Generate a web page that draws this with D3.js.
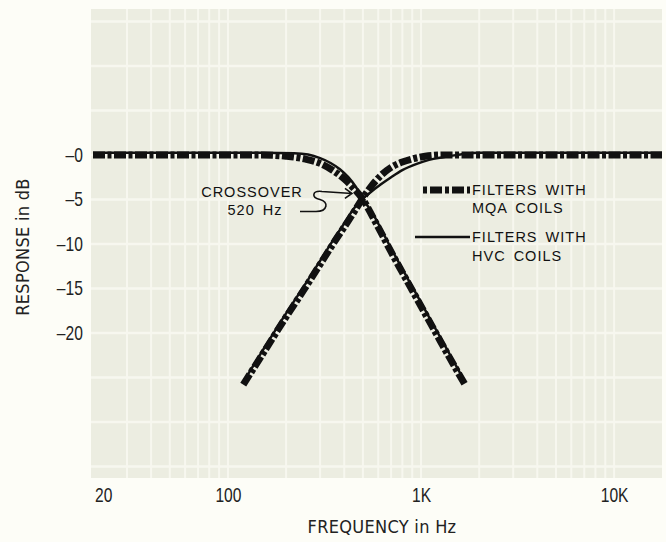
<!DOCTYPE html>
<html>
<head>
<meta charset="utf-8">
<script src="https://cdn.jsdelivr.net/npm/d3@7"></script>
<style>
  body { margin: 0; background: #fdfdf7; }
  svg { display: block; }
  .tick text { font-family: "Liberation Sans", Arial, sans-serif; font-size: 20px; fill: #222; }
  .note { font-family: "Liberation Sans", Arial, sans-serif; font-size: 14.5px; fill: #111; letter-spacing: 1px; word-spacing: 3px; }
  .title { font-family: "DejaVu Sans Condensed", "Liberation Sans", sans-serif; font-size: 18px; fill: #222; letter-spacing: 0.3px; }
</style>
</head>
<body>
<div id="chart"></div>
<script>
// frequency (Hz), response (dB)
var lowpassMQA = [[20,0],[150,0],[200,-0.15],[250,-0.45],[300,-0.95],[350,-1.75],[400,-2.7],[450,-3.8],[500,-5.0],[560,-6.9],[620,-8.7],[700,-10.9],[800,-13.2],[900,-15.2],[1000,-17.0],[1200,-20.1],[1450,-23.3],[1690,-25.8]];
var lowpassHVC = [[20,0.25],[150,0.25],[220,0.2],[260,0.05],[300,-0.35],[340,-0.9],[380,-1.6],[420,-2.5],[460,-3.6],[500,-4.95],[560,-6.5],[620,-8.3],[700,-10.5],[800,-12.8],[900,-14.8],[1000,-16.6],[1200,-19.7],[1450,-22.9],[1690,-25.5]];
var highpassMQA = [[120,-25.8],[150,-22.5],[200,-18.2],[250,-15.0],[300,-12.3],[350,-10.0],[400,-8.1],[450,-6.4],[494,-5.0],[540,-3.8],[620,-2.3],[700,-1.4],[800,-0.8],[900,-0.45],[1050,-0.15],[1300,0],[17700,0]];
var highpassHVC = [[120,-25.5],[150,-22.1],[200,-17.8],[250,-14.6],[300,-11.9],[350,-9.6],[400,-7.7],[450,-6.0],[494,-5.0],[540,-4.3],[620,-3.3],[700,-2.5],[800,-1.7],[950,-1.0],[1100,-0.55],[1300,-0.25],[1600,0.05],[2000,0.25],[17700,0.25]];

var freqTicks = [20, 100, 1000, 10000];
var freqLabels = ["20", "100", "1K", "10K"];
var dbTicks = [0, -5, -10, -15, -20];
var gridDb = d3.range(15, -36, -5);

var width = 666, height = 542;
var svg = d3.select("#chart").append("svg")
    .attr("width", width)
    .attr("height", height);

var x = d3.scaleLog().domain([20, 17700]).range([93, 662]);
var y = d3.scaleLinear().domain([-36.3, 16.4]).range([478, 9]);

svg.append("rect")
    .attr("x", x.range()[0] - 2).attr("y", y.range()[1])
    .attr("width", x.range()[1] - x.range()[0] + 2)
    .attr("height", y.range()[0] - y.range()[1])
    .attr("fill", "#ecede1");

// log graph paper
var gridFreq = [];
[10, 100, 1000, 10000].forEach(function (d) {
    for (var k = 1; k < 10; k++) {
        var f = k * d;
        if (f > 20 && f < 17700) gridFreq.push(f);
    }
});
svg.append("g").selectAll("line").data(gridFreq).join("line")
    .attr("x1", function (d) { return x(d); }).attr("x2", function (d) { return x(d); })
    .attr("y1", y.range()[1]).attr("y2", y.range()[0])
    .attr("stroke", "#f7f7ef").attr("stroke-width", 2);
svg.append("g").selectAll("line").data(gridDb).join("line")
    .attr("x1", x.range()[0] - 2).attr("x2", x.range()[1])
    .attr("y1", function (d) { return y(d); }).attr("y2", function (d) { return y(d); })
    .attr("stroke", "#f7f7ef").attr("stroke-width", 2.5);

// axes (condensed look by squeezing the labels)
var xAxis = svg.append("g")
    .attr("transform", "translate(0," + y.range()[0] + ")")
    .call(d3.axisBottom(x).tickValues(freqTicks).tickSize(0).tickPadding(10)
        .tickFormat(function (d, i) { return freqLabels[i]; }));
xAxis.select(".domain").remove();
xAxis.selectAll(".tick text").attr("transform", "scale(0.78,1)");
xAxis.selectAll(".tick text").filter(function (d) { return d === 20; })
    .attr("text-anchor", "start").attr("dx", 2);

var yAxis = svg.append("g")
    .attr("transform", "translate(" + x.range()[0] + ",0)")
    .call(d3.axisLeft(y).tickValues(dbTicks).tickSize(0).tickPadding(13)
        .tickFormat(function (d) { return "\u2013" + Math.abs(d); }));
yAxis.select(".domain").remove();
yAxis.selectAll(".tick text").attr("transform", "scale(0.78,1)");

svg.append("text").attr("class", "title")
    .attr("text-anchor", "middle")
    .attr("x", 382).attr("y", 533)
    .text("FREQUENCY in Hz");
svg.append("text").attr("class", "title")
    .attr("text-anchor", "middle")
    .attr("transform", "translate(29,247) rotate(-90)")
    .text("RESPONSE in dB");

// curves
var line = d3.line()
    .x(function (d) { return x(d[0]); })
    .y(function (d) { return y(d[1]); })
    .curve(d3.curveMonotoneX);

var dashDot = "12,2.5,4,2.5";
[lowpassMQA, highpassMQA].forEach(function (s) {
    svg.append("path").datum(s)
        .attr("d", line)
        .attr("fill", "none")
        .attr("stroke", "#111")
        .attr("stroke-width", 7)
        .attr("stroke-dasharray", dashDot);
});
[lowpassHVC, highpassHVC].forEach(function (s) {
    svg.append("path").datum(s)
        .attr("d", line)
        .attr("fill", "none")
        .attr("stroke", "#111")
        .attr("stroke-width", 2.5);
});

// crossover note
var cx = x(500), cy = y(-5);
svg.append("text").attr("class", "note").attr("text-anchor", "middle")
    .attr("x", 252).attr("y", 197).text("CROSSOVER");
svg.append("text").attr("class", "note").attr("text-anchor", "middle")
    .attr("x", 255).attr("y", 215).text("520 Hz");
var tipX = cx - 11, tipY = cy - 6;
svg.append("path")
    .attr("d", "M300," + (tipY + 18) + " L316," + (tipY + 18) +
        " C328," + (tipY + 18) + " 329," + (tipY + 8) + " 320," + (tipY + 6) +
        " C311," + (tipY + 4) + " 312," + (tipY - 3) + " 322," + (tipY - 2) +
        " L" + tipX + "," + tipY +
        " M" + (tipX - 7) + "," + (tipY - 5) + " L" + tipX + "," + tipY + " L" + (tipX - 7) + "," + (tipY + 5))
    .attr("fill", "none").attr("stroke", "#111").attr("stroke-width", 1.6);

// legend
var legend = svg.append("g");
legend.append("line")
    .attr("x1", 423).attr("x2", 470).attr("y1", 190).attr("y2", 190)
    .attr("stroke", "#111").attr("stroke-width", 7)
    .attr("stroke-dasharray", "4,3,12,3");
legend.append("line")
    .attr("x1", 415).attr("x2", 470).attr("y1", 237).attr("y2", 237)
    .attr("stroke", "#111").attr("stroke-width", 2.5);
legend.append("text").attr("class", "note").attr("x", 472).attr("y", 195).text("FILTERS  WITH");
legend.append("text").attr("class", "note").attr("x", 472).attr("y", 213).text("MQA  COILS");
legend.append("text").attr("class", "note").attr("x", 472).attr("y", 242).text("FILTERS  WITH");
legend.append("text").attr("class", "note").attr("x", 472).attr("y", 261).text("HVC  COILS");
</script>
</body>
</html>
